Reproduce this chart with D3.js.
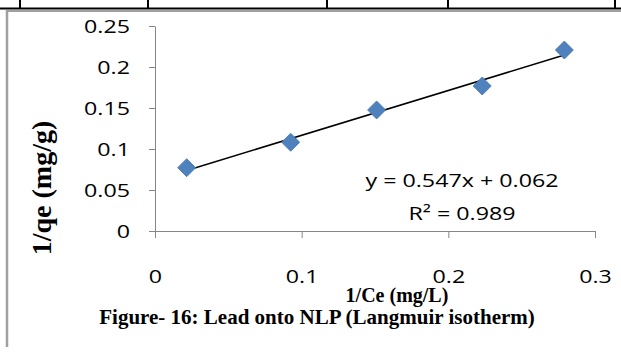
<!DOCTYPE html>
<html>
<head>
<meta charset="utf-8">
<script src="https://cdn.jsdelivr.net/npm/d3@7"></script>
<style>
  body { margin: 0; background: #fff; }
  svg { display: block; }
</style>
</head>
<body>
<script>
// 1/Ce values and 1/qe values
var invCe = [0.0216, 0.0925, 0.1511, 0.2231, 0.2791];
var invQe = [0.0772, 0.1082, 0.1476, 0.1768, 0.2207];

var xTicks = [0, 0.1, 0.2, 0.3];
var yTicks = [0, 0.05, 0.1, 0.15, 0.2, 0.25];

// trendline coefficients printed on the chart
var slope = 0.547;
var intercept = 0.062;
var eqLines = ["y = 0.547x + 0.062", "R\u00b2 = 0.989"];

var xTitle = "1/Ce (mg/L)";
var yTitle = "1/qe (mg/g)";
var caption = "Figure- 16: Lead onto NLP (Langmuir isotherm)";

var width = 621, height = 356;
var axisColor = "#868686";
var stretch = 1.25;   // chart text looks stretched sideways

var svg = d3.select("body").append("svg")
    .attr("width", width)
    .attr("height", height);

// table rule above the figure
var tableCols = [20, 148, 327, 448, 615];
svg.append("line")
    .attr("x1", 0).attr("x2", width)
    .attr("y1", 8.5).attr("y2", 8.5)
    .attr("stroke", "#000").attr("stroke-width", 2);
svg.selectAll("line.col")
    .data(tableCols)
    .enter().append("line")
    .attr("class", "col")
    .attr("x1", function(d){ return d; }).attr("x2", function(d){ return d; })
    .attr("y1", 0).attr("y2", 9)
    .attr("stroke", "#000").attr("stroke-width", 2);

// grey cell frame
svg.append("line")
    .attr("x1", 6.5).attr("x2", width)
    .attr("y1", 11).attr("y2", 11)
    .attr("stroke", "#a0a0a0").attr("stroke-width", 2);
svg.append("line")
    .attr("x1", 7).attr("x2", 7)
    .attr("y1", 10).attr("y2", 347)
    .attr("stroke", "#a0a0a0").attr("stroke-width", 2.5);

var x = d3.scaleLinear().domain([0, 0.3]).range([155, 595]);
var y = d3.scaleLinear().domain([0, 0.25]).range([231, 26]);

var yAxis = svg.append("g")
    .attr("transform", "translate(155,0)")
    .call(d3.axisLeft(y).tickValues(yTicks).tickSize(6).tickSizeOuter(0)
        .tickFormat(function(d){ return d3.format("")(+d.toFixed(2)); }));

var xAxis = svg.append("g")
    .attr("transform", "translate(0,231)")
    .call(d3.axisBottom(x).tickValues(xTicks).tickSize(7).tickSizeOuter(0)
        .tickFormat(function(d){ return d3.format("")(+d.toFixed(1)); }));

[yAxis, xAxis].forEach(function(ax){
    ax.select(".domain").attr("stroke", axisColor);
    ax.selectAll(".tick line").attr("stroke", axisColor);
    ax.selectAll(".tick text")
        .attr("fill", "#000")
        .style("font-family", "'Open Sans', sans-serif")
        .style("font-size", "18.6px");
});

yAxis.selectAll(".tick text")
    .attr("x", -25 / stretch)
    .attr("dy", "0.36em")
    .attr("transform", "scale(" + stretch + ",1)");

xAxis.selectAll(".tick text")
    .attr("y", 45)
    .attr("dy", "0.36em")
    .attr("transform", "scale(" + stretch + ",1)");

// trendline across the data range
var xMin = d3.min(invCe), xMax = d3.max(invCe);
svg.append("line")
    .attr("x1", x(xMin)).attr("y1", y(slope * xMin + intercept))
    .attr("x2", x(xMax)).attr("y2", y(slope * xMax + intercept))
    .attr("stroke", "#000").attr("stroke-width", 1.5);

// diamond markers
var diamond = d3.symbol().type(d3.symbolSquare).size(162);
svg.selectAll("path.pt")
    .data(invCe)
    .enter().append("path")
    .attr("class", "pt")
    .attr("d", diamond)
    .attr("transform", function(d, i){
        return "translate(" + x(d) + "," + y(invQe[i]) + ") rotate(45)";
    })
    .attr("fill", "#4f81bd")
    .attr("stroke", "#4677b0")
    .attr("stroke-width", 0.8);

// equation label
svg.selectAll("g.eq")
    .data(eqLines)
    .enter().append("g")
    .attr("class", "eq")
    .attr("transform", function(d, i){
        return "translate(462," + (186.5 + i * 33.5) + ") scale(" + stretch + ",1)";
    })
    .append("text")
    .attr("text-anchor", "middle")
    .style("font-family", "'Open Sans', sans-serif")
    .style("font-size", "18.6px")
    .text(function(d){ return d; });

// axis titles and caption
svg.append("text")
    .attr("x", 397).attr("y", 302)
    .attr("text-anchor", "middle")
    .style("font-family", "'Liberation Serif', 'Times New Roman', serif")
    .style("font-weight", "bold")
    .style("font-size", "20px")
    .text(xTitle);

svg.append("text")
    .attr("transform", "translate(51,188) rotate(-90)")
    .attr("text-anchor", "middle")
    .style("font-family", "'Liberation Serif', 'Times New Roman', serif")
    .style("font-weight", "bold")
    .style("font-size", "28px")
    .text(yTitle);

svg.append("text")
    .attr("x", 317).attr("y", 324)
    .attr("text-anchor", "middle")
    .style("font-family", "'Liberation Serif', 'Times New Roman', serif")
    .style("font-weight", "bold")
    .style("font-size", "21px")
    .text(caption);
</script>
</body>
</html>
